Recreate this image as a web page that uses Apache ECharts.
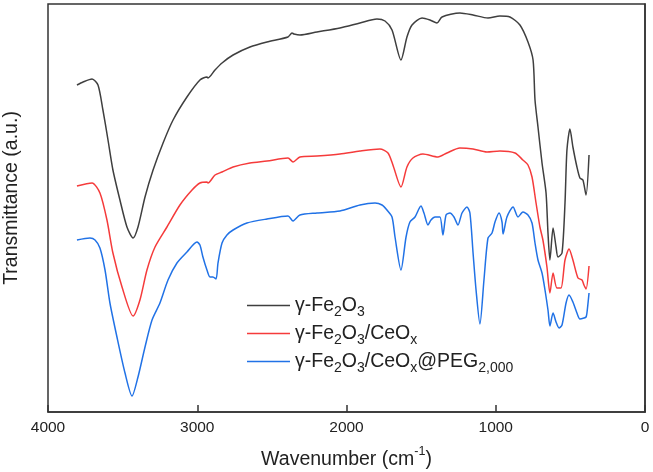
<!DOCTYPE html>
<html>
<head>
<meta charset="utf-8">
<script src="https://cdn.jsdelivr.net/npm/echarts@6/dist/echarts.min.js"></script>
<style>html,body{margin:0;padding:0;background:#fff}#c{width:653px;height:472px}</style>
</head>
<body>
<div id="c"></div>
<script>
// Series names
const seriesNames = ['γ-Fe2O3', 'γ-Fe2O3/CeOx', 'γ-Fe2O3/CeOx@PEG2,000'];
// x tick labels (wavenumber, cm-1)
const xTicks = [4000, 3000, 2000, 1000, 0];

// γ-Fe2O3 : wavenumber / transmittance (a.u.)
const fe2o3Wn = [3806,3765,3705,3665,3632,3598,3565,3518,3471,3430,3397,3350,3296,3229,3162,3069,2982,2935,2928,2881,2834,2760,2647,2533,2392,2365,2352,2312,2198,2044,1910,1796,1742,1695,1635,1595,1561,1494,1441,1394,1360,1240,1152,1052,972,905,838,784,750,737,717,690,663,650,637,616,596,583,556,536,523,503,483,456,436,416,395,375];
const fe2o3T  = [81.75,82.5,83.25,81.75,75.5,68,60.5,53,46.25,43.5,46.25,53.75,60.5,67.25,73,78.75,83,83.75,83.5,85.5,87.25,89.25,91.25,92.5,93.75,94.75,94.5,94.25,95,96,97.25,98.25,97.75,95.5,88,93.75,96.75,98.5,98,97.25,98.75,99.75,99.25,98.5,99,98.75,96.75,92.5,88,78,71.25,62.25,54.75,44.75,38,46,41.25,38.75,39.75,52.25,65.5,70.75,66.25,61.25,58.5,58,54.25,64.25];

// γ-Fe2O3/CeOx
const ceoxWn = [3806,3705,3652,3605,3565,3504,3430,3384,3337,3283,3203,3116,3035,2982,2935,2928,2881,2834,2760,2647,2533,2392,2358,2312,2198,2044,1910,1776,1722,1689,1635,1595,1555,1488,1387,1327,1240,1152,1059,972,871,818,784,757,730,704,684,657,637,616,590,563,536,509,483,449,422,409,395,375];
const ceoxT  = [56.5,57.25,54.75,48,39.75,31.25,24,28,35.5,41.25,46.25,51.75,55.5,57.25,57.5,57.25,59.25,60,61.25,62.25,62.75,63.5,62.5,63.75,64,64.5,65.25,65.75,64.75,61.75,56.25,61.25,63.5,64.5,63.75,64.75,66,65.75,65,65.25,64.75,63,61.75,58.75,52.25,46.25,43,36.25,29.75,34.75,31,31,38,40.75,38,33.5,33,31.75,30.75,36.5];

// γ-Fe2O3/CeOx@PEG2,000
const pegWn = [3806,3719,3685,3652,3618,3585,3538,3484,3437,3397,3350,3303,3250,3196,3136,3069,3002,2982,2962,2935,2915,2895,2874,2861,2834,2801,2760,2667,2533,2392,2358,2312,2198,2044,1910,1809,1762,1729,1695,1675,1635,1601,1575,1541,1501,1481,1454,1434,1407,1374,1354,1333,1307,1280,1253,1226,1193,1173,1152,1132,1106,1079,1052,1025,1005,978,958,951,925,884,851,818,784,757,737,717,690,670,650,637,616,596,576,556,529,509,483,456,436,409,395,389,375];
const pegT  = [43,43.5,43,41,35.5,27.25,18.75,9.75,4,8.75,16.25,23,27.25,33,37.25,40,42.5,41.75,38.75,35.5,33.75,33.75,33.25,37.25,42.25,44.25,45.5,47.25,48.25,49,47.75,49.25,49.75,50.25,51.75,52.25,51.75,50.5,48.75,43.75,35.5,43.75,47.5,48.75,51.5,49.75,46.75,48,48.75,48.75,44.25,49.25,49.75,48.75,46.75,49.75,51.25,49.75,39.75,30.5,22,33,43.5,44.75,47.5,49.75,47.5,44.5,48.75,51.25,48.75,50,49.25,47.25,42.25,38,34.75,30.5,25.5,21.5,24.75,22.5,21,21.75,27.25,29.25,27.5,24.75,23.25,23.5,23.75,24.75,29.75];

const colors = ['#3f3f3f', '#f53b3b', '#2172e6'];
const FONT = 'Liberation Sans, Arial, sans-serif';

function pairs(xs, ys) { return xs.map((x, i) => [x, ys[i]]); }
const allData = [pairs(fe2o3Wn, fe2o3T), pairs(ceoxWn, ceoxT), pairs(pegWn, pegT)];

const richLabels = {
  'γ-Fe2O3': '{n|γ-Fe}{s|2}{n|O}{s|3}',
  'γ-Fe2O3/CeOx': '{n|γ-Fe}{s|2}{n|O}{s|3}{n|/CeO}{s|x}',
  'γ-Fe2O3/CeOx@PEG2,000': '{n|γ-Fe}{s|2}{n|O}{s|3}{n|/CeO}{s|x}{n|@PEG}{s|2,000}'
};

const chart = echarts.init(document.getElementById('c'), null, {renderer: 'canvas'});
chart.setOption({
  animation: false,
  backgroundColor: '#fff',
  grid: {left: 48, right: 8, top: 4, bottom: 60, containLabel: false, outerBoundsMode: 'none',
    show: true, borderColor: '#333', borderWidth: 1.5, backgroundColor: 'transparent'},
  xAxis: {
    type: 'value', inverse: true, min: 0, max: 4000, interval: 1000,
    name: '{n|Wavenumber (cm}{sup|-1}{n|)}',
    nameLocation: 'middle', nameGap: 33,
    nameTextStyle: {
      rich: {
        n: {fontSize: 19.5, fontFamily: FONT, color: '#222', lineHeight: 21, padding: [5, 0, 0, 0], verticalAlign: 'top'},
        sup: {fontSize: 12.5, fontFamily: FONT, color: '#222', lineHeight: 12, verticalAlign: 'top'}
      }
    },
    axisLine: {show: true, lineStyle: {color: '#333', width: 1.5}},
    axisTick: {show: true, inside: true, length: 7, lineStyle: {color: '#333', width: 1.5}},
    axisLabel: {fontSize: 15.5, fontFamily: FONT, color: '#222', margin: 8,
      formatter: v => xTicks.includes(v) ? String(v) : ''},
    splitLine: {show: false}
  },
  yAxis: {
    type: 'value', min: 0, max: 102,
    name: 'Transmittance (a.u.)', nameLocation: 'middle', nameGap: 26,
    nameTextStyle: {fontSize: 19.5, fontFamily: FONT, color: '#222', padding: [0, 0, 0, 20]},
    axisLine: {show: true, lineStyle: {color: '#333', width: 1.5}},
    axisTick: {show: false}, axisLabel: {show: false}, splitLine: {show: false}
  },
  legend: {
    orient: 'vertical', left: 242, top: 291, itemWidth: 43, itemHeight: 1.6, itemGap: 5,
    icon: 'rect',
    data: seriesNames,
    formatter: name => richLabels[name],
    textStyle: {
      rich: {
        n: {fontSize: 19.5, fontFamily: FONT, color: '#222', lineHeight: 19, verticalAlign: 'top'},
        s: {fontSize: 14, fontFamily: FONT, color: '#222', lineHeight: 13, padding: [9, 0, 0, 0], verticalAlign: 'top'}
      }
    }
  },
  series: seriesNames.map((nm, i) => ({
    name: nm, type: 'line', data: allData[i], showSymbol: false, symbol: 'none',
    smooth: 0.25, lineStyle: {color: colors[i], width: 1.5}, itemStyle: {color: colors[i]}
  }))
});
</script>
</body>
</html>
